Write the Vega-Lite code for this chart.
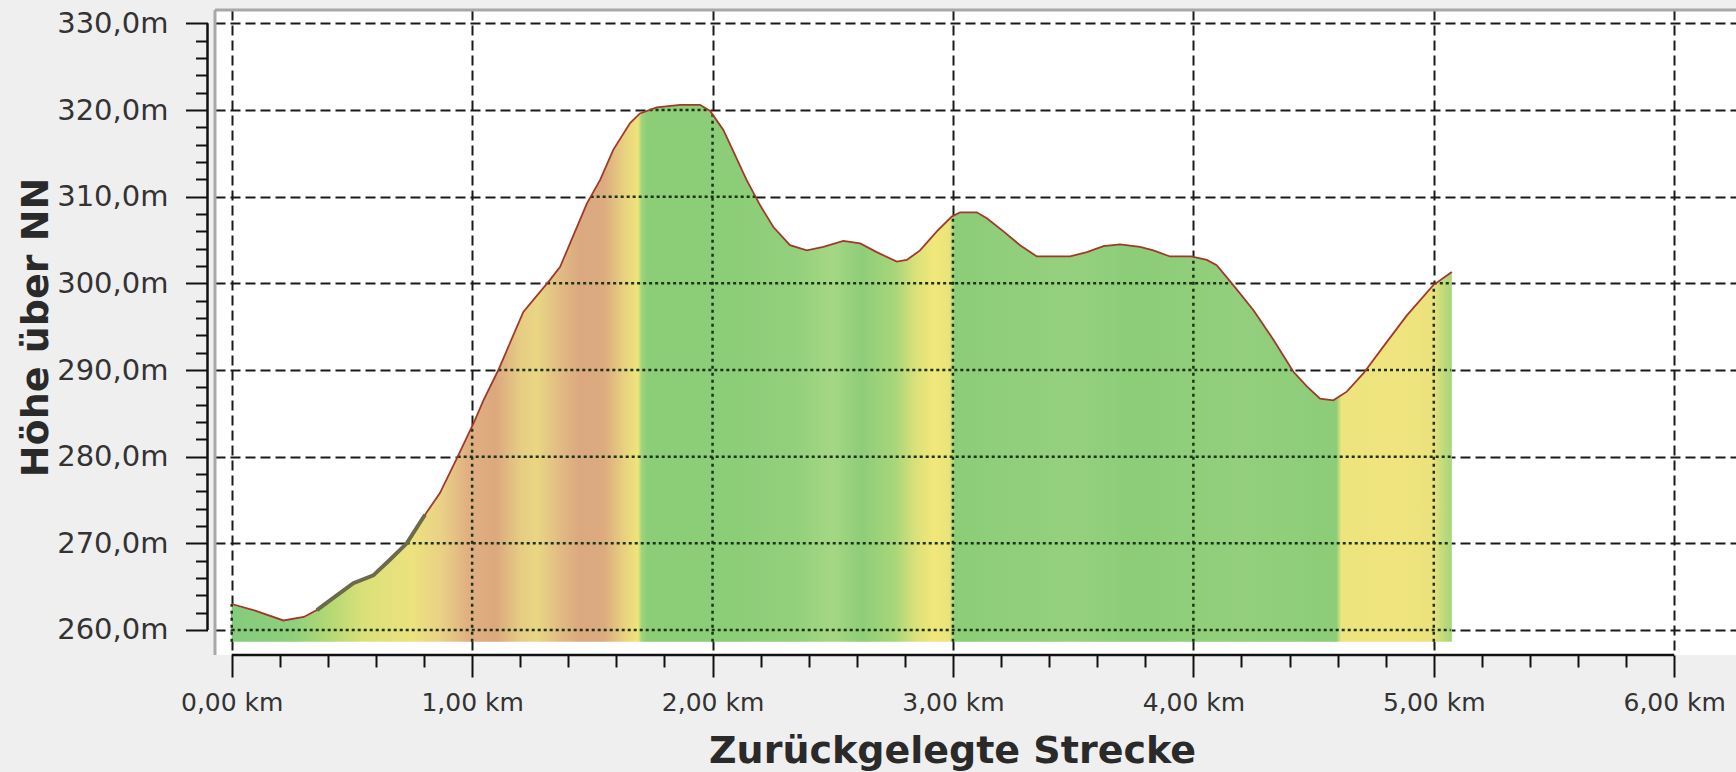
{
  "$schema": "https://vega.github.io/schema/vega-lite/v6.json",
  "width": 1521,
  "height": 645,
  "autosize": {"type": "none"},
  "padding": {"left": 215, "top": 10, "right": 0, "bottom": 117},
  "background": "#efefef",
  "config": {"view": {"fill": "#ffffff", "stroke": null}, "font": "DejaVu Sans"},
  "datasets": {
    "profile": [
      {"km": 0.000, "m": 263.0}, {"km": 0.09, "m": 262.3}, {"km": 0.215, "m": 261.1}, {"km": 0.30, "m": 261.5},
      {"km": 0.354, "m": 262.3}, {"km": 0.437, "m": 264.0}, {"km": 0.506, "m": 265.4}, {"km": 0.589, "m": 266.3},
      {"km": 0.658, "m": 268.1}, {"km": 0.728, "m": 270.0}, {"km": 0.804, "m": 273.3}, {"km": 0.866, "m": 275.8},
      {"km": 0.94, "m": 280.0}, {"km": 1.005, "m": 283.8}, {"km": 1.047, "m": 286.5}, {"km": 1.109, "m": 290.0},
      {"km": 1.213, "m": 296.7}, {"km": 1.324, "m": 300.4}, {"km": 1.366, "m": 301.9}, {"km": 1.477, "m": 309.2},
      {"km": 1.532, "m": 311.9}, {"km": 1.587, "m": 315.4}, {"km": 1.657, "m": 318.5}, {"km": 1.698, "m": 319.6},
      {"km": 1.768, "m": 320.3}, {"km": 1.865, "m": 320.6}, {"km": 1.948, "m": 320.6}, {"km": 1.990, "m": 319.9},
      {"km": 2.045, "m": 317.7}, {"km": 2.087, "m": 315.2}, {"km": 2.142, "m": 311.9}, {"km": 2.198, "m": 309.0},
      {"km": 2.253, "m": 306.5}, {"km": 2.322, "m": 304.4}, {"km": 2.392, "m": 303.8}, {"km": 2.461, "m": 304.2},
      {"km": 2.544, "m": 304.9}, {"km": 2.614, "m": 304.6}, {"km": 2.683, "m": 303.6}, {"km": 2.766, "m": 302.5},
      {"km": 2.808, "m": 302.7}, {"km": 2.863, "m": 303.8}, {"km": 2.933, "m": 306.0}, {"km": 2.995, "m": 307.7},
      {"km": 3.030, "m": 308.2}, {"km": 3.099, "m": 308.2}, {"km": 3.141, "m": 307.5}, {"km": 3.210, "m": 306.0},
      {"km": 3.279, "m": 304.4}, {"km": 3.349, "m": 303.1}, {"km": 3.487, "m": 303.1}, {"km": 3.557, "m": 303.6},
      {"km": 3.626, "m": 304.3}, {"km": 3.695, "m": 304.5}, {"km": 3.778, "m": 304.2}, {"km": 3.834, "m": 303.8},
      {"km": 3.903, "m": 303.1}, {"km": 3.990, "m": 303.1}, {"km": 4.056, "m": 302.7}, {"km": 4.097, "m": 302.1},
      {"km": 4.166, "m": 299.8}, {"km": 4.250, "m": 296.9}, {"km": 4.333, "m": 293.5}, {"km": 4.416, "m": 289.8},
      {"km": 4.472, "m": 288.1}, {"km": 4.527, "m": 286.7}, {"km": 4.582, "m": 286.5}, {"km": 4.638, "m": 287.5},
      {"km": 4.707, "m": 289.6}, {"km": 4.790, "m": 292.7}, {"km": 4.888, "m": 296.3}, {"km": 4.998, "m": 299.8},
      {"km": 5.075, "m": 301.3}
    ],
    "vdots": [
      {"gx": 0, "ya": 258.65, "yb": 263.0}, {"gx": 1, "ya": 258.65, "yb": 283.5}, {"gx": 2, "ya": 258.65, "yb": 319.5},
      {"gx": 3, "ya": 258.65, "yb": 307.8}, {"gx": 4, "ya": 258.65, "yb": 303.1}, {"gx": 5, "ya": 258.65, "yb": 299.8}
    ],
    "hdots": [
      {"xa": 0, "xb": 5.07, "gy": 260}, {"xa": 0.728, "xb": 5.07, "gy": 270}, {"xa": 0.94, "xb": 5.07, "gy": 280},
      {"xa": 1.109, "xb": 4.411, "gy": 290}, {"xa": 4.718, "xb": 5.07, "gy": 290}, {"xa": 1.312, "xb": 4.16, "gy": 300},
      {"xa": 5.0, "xb": 5.07, "gy": 300}, {"xa": 1.493, "xb": 2.179, "gy": 310}, {"xa": 1.738, "xb": 1.984, "gy": 320}
    ],
    "one": [{}]
  },
  "layer": [
    {
      "data": {"name": "profile"},
      "mark": {
        "type": "area",
        "stroke": null,
        "fill": {
          "gradient": "linear", "x1": 0, "x2": 1, "y1": 0, "y2": 0,
          "stops": [
            {"offset": 0, "color": "#85cb7e"}, {"offset": 0.0493, "color": "#8fcf7c"},
            {"offset": 0.0788, "color": "#b2d874"}, {"offset": 0.1084, "color": "#dbe079"},
            {"offset": 0.1478, "color": "#ece27e"}, {"offset": 0.1734, "color": "#e9cf86"},
            {"offset": 0.1931, "color": "#e0b081"}, {"offset": 0.2167, "color": "#dca87e"},
            {"offset": 0.2365, "color": "#e6cc84"}, {"offset": 0.2502, "color": "#e9d683"},
            {"offset": 0.2680, "color": "#e2bc84"}, {"offset": 0.2857, "color": "#dba87f"},
            {"offset": 0.3054, "color": "#dcab80"}, {"offset": 0.3212, "color": "#e8d07f"},
            {"offset": 0.3330, "color": "#eee57a"}, {"offset": 0.3360, "color": "#9ed47c"},
            {"offset": 0.3409, "color": "#8ccd78"}, {"offset": 0.4138, "color": "#8ccd78"},
            {"offset": 0.4631, "color": "#94d07c"}, {"offset": 0.4926, "color": "#a5d783"},
            {"offset": 0.5163, "color": "#8fcd79"}, {"offset": 0.5438, "color": "#a8d67a"},
            {"offset": 0.5596, "color": "#d8e07a"}, {"offset": 0.5754, "color": "#f2e77a"},
            {"offset": 0.5882, "color": "#e8e47a"}, {"offset": 0.5931, "color": "#8ccd78"},
            {"offset": 0.6897, "color": "#95d07e"}, {"offset": 0.7389, "color": "#8ccd78"},
            {"offset": 0.8276, "color": "#93cf7c"}, {"offset": 0.9054, "color": "#8ccd78"},
            {"offset": 0.9094, "color": "#ede47e"}, {"offset": 0.9557, "color": "#f0e47e"},
            {"offset": 0.9852, "color": "#ebe27c"}, {"offset": 0.9911, "color": "#c9dc7c"},
            {"offset": 1, "color": "#a8d47c"}
          ]
        }
      },
      "encoding": {
        "x": {
          "field": "km", "type": "quantitative",
          "scale": {"domain": [-0.0695, 6.257], "nice": false, "zero": false},
          "axis": {
            "orient": "bottom", "values": [0, 1, 2, 3, 4, 5, 6], "domain": false,
            "tickSize": 22, "tickWidth": 2, "tickColor": "#111111",
            "labelExpr": "replace(format(datum.value, '.2f'), '.', ',') + ' km'",
            "labelFont": "DejaVu Sans", "labelFontSize": 25, "labelColor": "#333333",
            "labelPadding": 13, "labelFlush": false, "labelOverlap": false, "labelBound": false,
            "grid": true, "gridColor": "#1a1a1a", "gridDash": [10, 5], "gridWidth": 2,
            "title": "Zurückgelegte Strecke", "titleFont": "DejaVu Sans", "titleFontSize": 38,
            "titleFontWeight": "bold", "titleColor": "#2a2a2a", "titleX": 737, "titleY": 107,
            "titleBaseline": "alphabetic", "titleAlign": "center"
          }
        },
        "y": {
          "field": "m", "type": "quantitative",
          "scale": {"domain": [257.115, 331.54], "nice": false, "zero": false},
          "axis": {
            "orient": "left", "offset": 7.5,
            "values": [260, 270, 280, 290, 300, 310, 320, 330], "domain": false,
            "tickSize": 22, "tickWidth": 2, "tickColor": "#111111",
            "labelExpr": "replace(format(datum.value, '.1f'), '.', ',') + 'm'",
            "labelFont": "DejaVu Sans", "labelFontSize": 29, "labelColor": "#333333",
            "labelPadding": 17.5, "labelOverlap": false, "labelBound": false, "labelFlush": false,
            "grid": true, "gridColor": "#1a1a1a", "gridDash": [10, 5], "gridWidth": 2,
            "title": "Höhe über NN", "titleFont": "DejaVu Sans", "titleFontSize": 38,
            "titleFontWeight": "bold", "titleColor": "#2a2a2a", "titleAngle": 270,
            "titleX": -160, "titleY": 317, "titleAlign": "center", "titleBaseline": "alphabetic"
          }
        },
        "y2": {"datum": 258.65}
      }
    },
    {
      "data": {"name": "vdots"},
      "mark": {"type": "rule", "color": "#1c3316", "strokeWidth": 2.5, "strokeDash": [3, 4]},
      "encoding": {
        "x": {"field": "gx", "type": "quantitative", "scale": {"domain": [-0.0695, 6.257], "nice": false, "zero": false}, "axis": null},
        "y": {"field": "ya", "type": "quantitative", "scale": {"domain": [257.115, 331.54], "nice": false, "zero": false}, "axis": null},
        "y2": {"field": "yb"}
      }
    },
    {
      "data": {"name": "hdots"},
      "mark": {"type": "rule", "color": "#1c3316", "strokeWidth": 2.5, "strokeDash": [3, 3]},
      "encoding": {
        "x": {"field": "xa", "type": "quantitative", "scale": {"domain": [-0.0695, 6.257], "nice": false, "zero": false}, "axis": null},
        "x2": {"field": "xb"},
        "y": {"field": "gy", "type": "quantitative", "scale": {"domain": [257.115, 331.54], "nice": false, "zero": false}, "axis": null}
      }
    },
    {
      "data": {"name": "profile"},
      "mark": {"type": "line", "color": "#a0392c", "strokeWidth": 1.8},
      "encoding": {
        "x": {
          "field": "km", "type": "quantitative",
          "scale": {"domain": [-0.0695, 6.257], "nice": false, "zero": false},
          "axis": {
            "orient": "bottom",
            "values": [0.2, 0.4, 0.6, 0.8, 1.2, 1.4, 1.6, 1.8, 2.2, 2.4, 2.6, 2.8, 3.2, 3.4, 3.6, 3.8, 4.2, 4.4, 4.6, 4.8, 5.2, 5.4, 5.6, 5.8],
            "domain": false, "labels": false, "grid": false, "title": null,
            "tickSize": 12, "tickWidth": 2, "tickColor": "#111111"
          }
        },
        "y": {
          "field": "m", "type": "quantitative",
          "scale": {"domain": [257.115, 331.54], "nice": false, "zero": false},
          "axis": {
            "orient": "left", "offset": 7.5,
            "values": [262, 264, 266, 268, 272, 274, 276, 278, 282, 284, 286, 288, 292, 294, 296, 298, 302, 304, 306, 308, 312, 314, 316, 318, 322, 324, 326, 328],
            "domain": false, "labels": false, "grid": false, "title": null,
            "tickSize": 12, "tickWidth": 2, "tickColor": "#111111"
          }
        }
      }
    },
    {
      "data": {"name": "profile"},
      "transform": [{"filter": "datum.km >= 0.35 && datum.km <= 0.81"}],
      "mark": {"type": "line", "color": "#6c6a4a", "strokeWidth": 4},
      "encoding": {
        "x": {"field": "km", "type": "quantitative", "scale": {"domain": [-0.0695, 6.257], "nice": false, "zero": false}, "axis": null},
        "y": {"field": "m", "type": "quantitative", "scale": {"domain": [257.115, 331.54], "nice": false, "zero": false}, "axis": null}
      }
    },
    {
      "data": {"name": "one"},
      "mark": {"type": "rule", "color": "#111111", "strokeWidth": 2.5},
      "encoding": {
        "x": {"datum": 0, "type": "quantitative", "scale": {"domain": [-0.0695, 6.257], "nice": false, "zero": false}, "axis": null},
        "x2": {"datum": 6},
        "y": {"datum": 257.115, "type": "quantitative", "scale": {"domain": [257.115, 331.54], "nice": false, "zero": false}, "axis": null}
      }
    },
    {
      "data": {"name": "one"},
      "mark": {"type": "rule", "color": "#111111", "strokeWidth": 2.5},
      "encoding": {
        "x": {"datum": -0.1007, "type": "quantitative", "scale": {"domain": [-0.0695, 6.257], "nice": false, "zero": false}, "axis": null},
        "y": {"datum": 260, "type": "quantitative", "scale": {"domain": [257.115, 331.54], "nice": false, "zero": false}, "axis": null},
        "y2": {"datum": 330}
      }
    },
    {
      "data": {"name": "one"},
      "mark": {"type": "rule", "color": "#a8a8a8", "strokeWidth": 3},
      "encoding": {
        "x": {"datum": -0.0695, "type": "quantitative", "scale": {"domain": [-0.0695, 6.257], "nice": false, "zero": false}, "axis": null},
        "x2": {"datum": 6.257},
        "y": {"datum": 331.54, "type": "quantitative", "scale": {"domain": [257.115, 331.54], "nice": false, "zero": false}, "axis": null}
      }
    },
    {
      "data": {"name": "one"},
      "mark": {"type": "rule", "color": "#a8a8a8", "strokeWidth": 3},
      "encoding": {
        "x": {"datum": -0.0695, "type": "quantitative", "scale": {"domain": [-0.0695, 6.257], "nice": false, "zero": false}, "axis": null},
        "y": {"datum": 257.115, "type": "quantitative", "scale": {"domain": [257.115, 331.54], "nice": false, "zero": false}, "axis": null},
        "y2": {"datum": 331.54}
      }
    }
  ],
  "resolve": {"axis": {"x": "independent", "y": "independent"}}
}
